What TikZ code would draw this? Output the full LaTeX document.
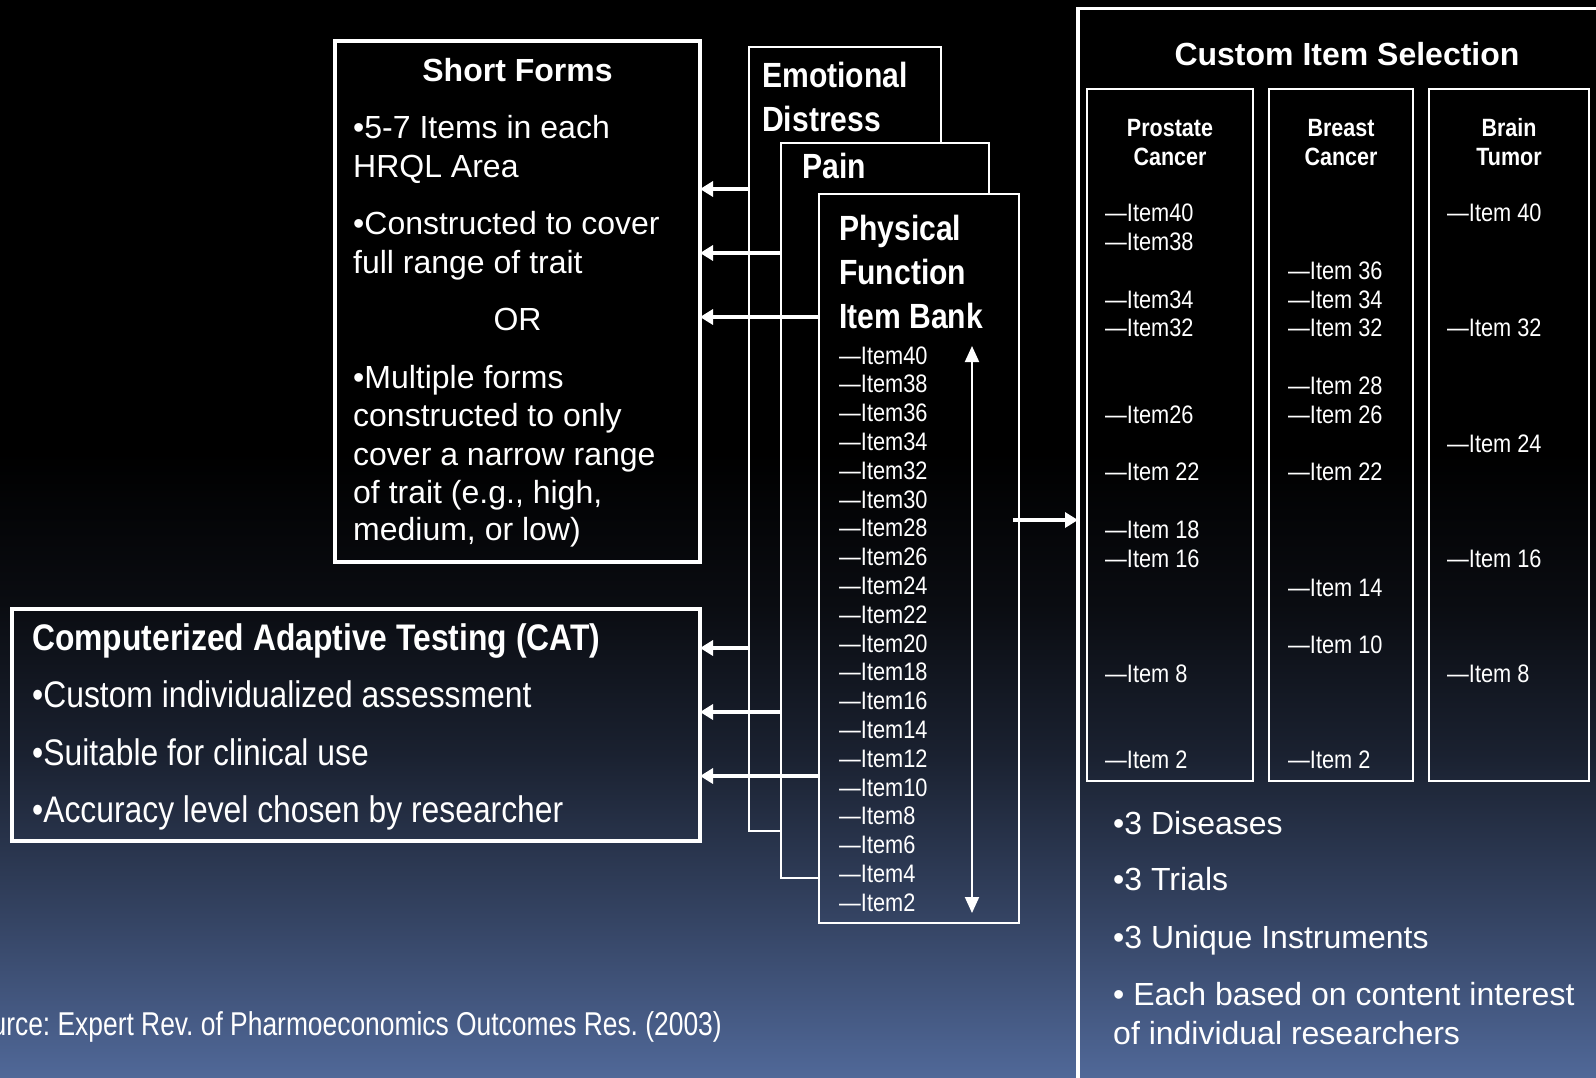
\documentclass[tikz,border=0pt]{standalone}
\usepackage{fontspec}
\setmainfont{Liberation Sans}
\newfontfamily\nar{Liberation Sans}[FakeStretch=0.86]
\newfontfamily\narr{Liberation Sans}[FakeStretch=0.80]
\usetikzlibrary{arrows.meta}
\definecolor{bgA}{RGB}{80,104,152}
\definecolor{bgB}{RGB}{52,67,98}
\definecolor{bgC}{RGB}{26,33,48}
\definecolor{bgD}{RGB}{10,12,17}
\pgfdeclareverticalshading{bgshade}{100bp}{color(0bp)=(bgA); color(25bp)=(bgA); color(32.5bp)=(bgB); color(40bp)=(bgC); color(47bp)=(bgD); color(54bp)=(black); color(100bp)=(black)}
\frenchspacing
\begin{document}
\begin{tikzpicture}[x=1pt,y=-1pt,
  boxbase/.style={draw=white, rectangle, anchor=north west, inner sep=0pt, outer sep=0pt},
  thickbox/.style={boxbase, line width=4pt},
  thinbox/.style={boxbase, line width=2pt},
  panel/.style={boxbase, line width=2pt, path picture={\shade[shading=bgshade] (bgNW) rectangle (bgSE);}},
  txt/.style={text=white, inner sep=0pt, anchor=base west, font=\fontsize{32}{38}\selectfont},
  ttl/.style={text=white, inner sep=0pt, anchor=base, font=\bfseries\fontsize{32}{38}\selectfont},
  hdr/.style={text=white, inner sep=0pt, anchor=base west, font=\nar\bfseries\fontsize{35}{40}\selectfont},
  itm/.style={text=white, inner sep=0pt, anchor=base west, font=\nar\fontsize{25.3}{28}\selectfont},
  colh/.style={text=white, inner sep=0pt, anchor=base, font=\nar\bfseries\fontsize{25}{28}\selectfont},
  cattl/.style={text=white, inner sep=0pt, anchor=base west, font=\nar\bfseries\fontsize{37}{44}\selectfont},
  cattxt/.style={text=white, inner sep=0pt, anchor=base west, font=\nar\fontsize{37}{44}\selectfont},
  srctxt/.style={text=white, inner sep=0pt, anchor=base east, font=\narr\fontsize{33}{40}\selectfont},
  bigarr/.style={draw=white, line width=4pt, -{Triangle[width=15pt,length=13pt]}},
  dblarr/.style={draw=white, line width=2pt, {Triangle[width=14pt,length=16pt]}-{Triangle[width=14pt,length=16pt]}}
]
\coordinate (bgNW) at (0,0);
\coordinate (bgSE) at (1596,1077);
\shade[shading=bgshade] (bgNW) rectangle (bgSE);
\useasboundingbox (bgNW) rectangle (bgSE);

% Short Forms box
\node[thickbox, minimum width=365pt, minimum height=521pt] (sf) at (335,41) {};
\node[ttl] (sfT) at (517.5,81) {Short Forms};
\node[txt] (sf1) at (353,138) {•5-7 Items in each};
\node[txt] (sf2) at (353,177) {HRQL Area};
\node[txt] (sf3) at (353,234) {•Constructed to cover};
\node[txt] (sf4) at (353,273) {full range of trait};
\node[txt, anchor=base] (sf5) at (517.5,330) {OR};
\node[txt] (sf6) at (353,388) {•Multiple forms};
\node[txt] (sf7) at (353,426) {constructed to only};
\node[txt] (sf8) at (353,465) {cover a narrow range};
\node[txt] (sf9) at (353,503) {of trait (e.g., high,};
\node[txt] (sf10) at (353,540) {medium, or low)};

% CAT box
\node[thickbox, minimum width=688pt, minimum height=232pt] (cat) at (12,609) {};
\node[cattl] (cat0) at (32,650) {Computerized Adaptive Testing (CAT)};
\node[cattxt] (cat1) at (32,707) {•Custom individualized assessment};
\node[cattxt] (cat2) at (32,765) {•Suitable for clinical use};
\node[cattxt] (cat3) at (32,822) {•Accuracy level chosen by researcher};

% stacked item banks
\node[panel, minimum width=192pt, minimum height=784pt] (emo) at (749,47) {};
\node[hdr] (emoT1) at (762,87) {Emotional};
\node[hdr] (emoT2) at (762,131) {Distress};
\node[panel, minimum width=208pt, minimum height=735pt] (pain) at (781,143) {};
\node[hdr] (painT) at (802,178) {Pain};
\node[panel, minimum width=200pt, minimum height=729pt] (phys) at (819,194) {};
\node[hdr] (physT1) at (839,240) {Physical};
\node[hdr] (physT2) at (839,284) {Function};
\node[hdr] (physT3) at (839,328) {Item Bank};
\foreach \n in {40,38,...,2}
  \node[itm] (pf\n) at (839,{364+(40-\n)*14.4}) {—Item\n};
\coordinate (da1) at (972,346);
\coordinate (da2) at (972,913);
\draw[dblarr] (da1) -- (da2);

% arrows to Short Forms and CAT
\coordinate (r1) at (0,189);
\coordinate (r2) at (0,253);
\coordinate (r3) at (0,317);
\coordinate (r4) at (0,648);
\coordinate (r5) at (0,712);
\coordinate (r6) at (0,776);
\draw[bigarr] (emo.west |- r1) -- (sf.east |- r1);
\draw[bigarr] (pain.west |- r2) -- (sf.east |- r2);
\draw[bigarr] (phys.west |- r3) -- (sf.east |- r3);
\draw[bigarr] (emo.west |- r4) -- (cat.east |- r4);
\draw[bigarr] (pain.west |- r5) -- (cat.east |- r5);
\draw[bigarr] (phys.west |- r6) -- (cat.east |- r6);

% Custom item selection
\node[boxbase, line width=3.5pt, minimum width=572pt, minimum height=1111pt] (cis) at (1078,8.5) {};
\node[ttl] (cisT) at (1347,65.5) {Custom Item Selection};
\coordinate (r7) at (0,520);
\draw[bigarr] ([xshift=-6pt]phys.east |- r7) -- (cis.west |- r7);

\node[thinbox, minimum width=166pt, minimum height=692pt] (colP) at (1087,89) {};
\node[thinbox, minimum width=144pt, minimum height=692pt] (colB) at (1269,89) {};
\node[thinbox, minimum width=160pt, minimum height=692pt] (colT) at (1429,89) {};
\node[colh] (colP1) at (1170,136) {Prostate};
\node[colh] (colP2) at (1170,165) {Cancer};
\node[colh] (colB1) at (1341,136) {Breast};
\node[colh] (colB2) at (1341,165) {Cancer};
\node[colh] (colT1) at (1509,136) {Brain};
\node[colh] (colT2) at (1509,165) {Tumor};
\foreach \n/\lab in {40/Item40,38/Item38,34/Item34,32/Item32,26/Item26,22/Item 22,18/Item 18,16/Item 16,8/Item 8,2/Item 2}
  \node[itm] (cp\n) at (1105,{221.7+(40-\n)*14.4}) {—\lab};
\foreach \n in {36,34,32,28,26,22,14,10,2}
  \node[itm] (cb\n) at (1288,{221.7+(40-\n)*14.4}) {—Item \n};
\foreach \n in {40,32,24,16,8}
  \node[itm] (ct\n) at (1447,{221.7+(40-\n)*14.4}) {—Item \n};

\node[txt] (b1) at (1113,834) {•3 Diseases};
\node[txt] (b2) at (1113,890) {•3 Trials};
\node[txt] (b3) at (1113,948) {•3 Unique Instruments};
\node[txt] (b4) at (1113,1005) {• Each based on content interest};
\node[txt] (b5) at (1113,1044) {of individual researchers};

\node[srctxt] (src) at (722,1035) {Source: Expert Rev. of Pharmoeconomics Outcomes Res. (2003)};
\end{tikzpicture}
\end{document}
